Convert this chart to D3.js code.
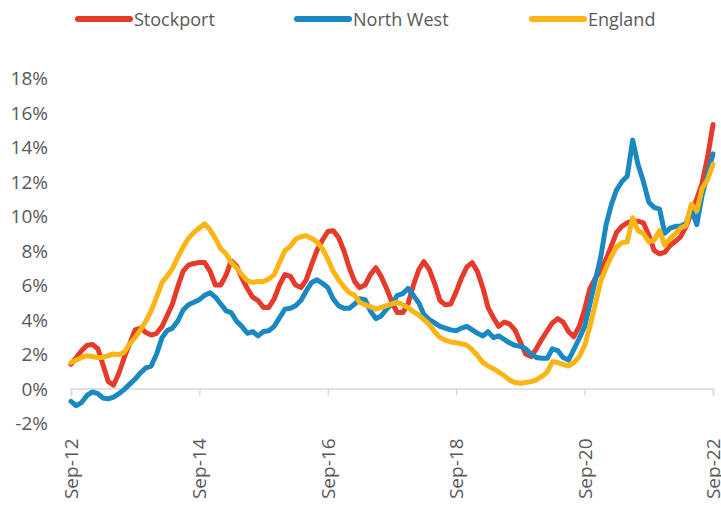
<!DOCTYPE html>
<html>
<head>
<meta charset="utf-8">
<script src="https://cdn.jsdelivr.net/npm/d3@7"></script>
<style>
  body { margin: 0; background: #fff; }
  svg { display: block; font-family: "Open Sans", sans-serif; }
</style>
</head>
<body>
<div id="chart"></div>
<script>
// mesos des de Sep-12 fins a Sep-22
const startMonth = new Date(2012, 8, 1);
const nMonths = 121;

const stockport = [
  1.4, 1.8, 2.2, 2.5, 2.55, 2.3, 1.4, 0.4, 0.2, 0.9, 1.8, 2.6,
  3.4, 3.5, 3.25, 3.1, 3.2, 3.6, 4.2, 4.9, 5.9, 6.8, 7.15, 7.25,
  7.3, 7.3, 6.8, 6.0, 6.0, 6.6, 7.4, 7.1, 6.4, 5.8, 5.3, 5.1,
  4.7, 4.7, 5.2, 6.0, 6.6, 6.5, 6.0, 5.85, 6.3, 7.2, 8.0, 8.6,
  9.1, 9.15, 8.75, 8.0, 7.0, 6.2, 5.85, 6.0, 6.6, 7.0, 6.5, 5.8,
  5.0, 4.4, 4.4, 4.9, 6.0, 6.9, 7.35, 6.9, 6.1, 5.1, 4.85, 4.9,
  5.6, 6.4, 7.05, 7.3, 6.75, 5.8, 4.7, 4.1, 3.6, 3.85, 3.75, 3.4,
  2.7, 2.0, 1.85, 2.3, 2.85, 3.35, 3.8, 4.05, 3.85, 3.3, 3.0, 3.6,
  4.6, 5.8, 6.4, 6.8, 7.5, 8.3, 9.05, 9.4, 9.6, 9.7, 9.7, 9.6,
  8.9, 8.0, 7.8, 7.9, 8.3, 8.55, 8.8, 9.4, 10.2, 11.0, 11.9, 13.4,
  15.3
];

const northWest = [
  -0.75, -1.0, -0.8, -0.4, -0.2, -0.3, -0.55, -0.6, -0.5, -0.3, -0.05, 0.25,
  0.55, 0.9, 1.2, 1.3, 2.0, 2.95, 3.35, 3.5, 3.9, 4.55, 4.85, 5.0,
  5.15, 5.4, 5.55, 5.3, 4.9, 4.5, 4.4, 3.9, 3.6, 3.2, 3.3, 3.05,
  3.3, 3.35, 3.6, 4.1, 4.6, 4.65, 4.8, 5.1, 5.65, 6.15, 6.3, 6.1,
  5.85, 5.2, 4.8, 4.65, 4.65, 4.9, 5.2, 5.15, 4.5, 4.05, 4.2, 4.6,
  4.9, 5.4, 5.5, 5.8, 5.4, 4.95, 4.3, 4.0, 3.8, 3.6, 3.5, 3.4,
  3.35, 3.5, 3.6, 3.4, 3.2, 3.05, 3.3, 2.95, 3.05, 2.85, 2.65, 2.5,
  2.45, 2.3, 2.0, 1.8, 1.75, 1.75, 2.3, 2.2, 1.8, 1.65, 2.25, 2.9,
  3.6, 4.9, 6.3, 7.6, 9.5, 10.7, 11.5, 12.0, 12.3, 14.4, 13.0, 12.0,
  10.8, 10.5, 10.4, 9.0, 9.3, 9.4, 9.4, 9.6, 10.4, 9.5, 11.2, 12.4,
  13.6
];

const england = [
  1.5, 1.65, 1.8, 1.9, 1.85, 1.8, 1.8, 1.9, 2.0, 1.95, 2.1, 2.6,
  2.95, 3.4, 3.9, 4.5, 5.3, 6.15, 6.5, 6.95, 7.6, 8.2, 8.7, 9.05,
  9.3, 9.55, 9.2, 8.7, 8.1, 7.8, 7.3, 7.0, 6.6, 6.25, 6.15, 6.2,
  6.2, 6.35, 6.6, 7.3, 8.0, 8.25, 8.65, 8.8, 8.85, 8.7, 8.5, 8.1,
  7.5, 6.8, 6.3, 5.9, 5.55, 5.4, 5.0, 4.85, 4.75, 4.6, 4.7, 4.8,
  4.9, 5.0, 4.85, 4.7, 4.45, 4.25, 4.0, 3.7, 3.3, 2.95, 2.8, 2.7,
  2.65, 2.6, 2.5, 2.25, 1.9, 1.5, 1.3, 1.15, 0.95, 0.75, 0.5, 0.35,
  0.3, 0.35, 0.4, 0.5, 0.7, 0.95, 1.55, 1.5, 1.4, 1.3, 1.5, 1.85,
  2.5, 3.6, 4.9, 6.2, 7.0, 7.7, 8.2, 8.45, 8.5, 9.9, 9.15, 9.0,
  8.5, 8.6, 9.15, 8.3, 8.7, 9.0, 9.3, 9.45, 10.7, 10.3, 11.6, 12.1,
  13.0
];

const seriesNames = ["Stockport", "North West", "England"];
const seriesColors = ["#E63A2B", "#1A89C3", "#FDB515"];
const yTicks = [-2, 0, 2, 4, 6, 8, 10, 12, 14, 16, 18];
const xTickMonths = [0, 24, 48, 72, 96, 120];
const xTickLabels = ["Sep-12", "Sep-14", "Sep-16", "Sep-18", "Sep-20", "Sep-22"];

const width = 721, height = 506;

const dates = d3.range(nMonths).map(i => d3.timeMonth.offset(startMonth, i));
const series = [stockport, northWest, england].map((vals, k) => ({
  name: seriesNames[k],
  color: seriesColors[k],
  values: vals.map((v, i) => ({ date: dates[i], v }))
}));

const svg = d3.select("#chart")
  .append("svg")
    .attr("width", width)
    .attr("height", height);

// escales
const x = d3.scaleTime()
  .domain([dates[0], dates[nMonths - 1]])
  .range([71, 713]);

const y = d3.scaleLinear()
  .domain([-2, 18])
  .range([423, 78]);

// eix Y: nomes etiquetes
svg.append("g")
  .selectAll("text")
  .data(yTicks)
  .enter()
  .append("text")
    .attr("x", 48)
    .attr("y", d => y(d))
    .attr("text-anchor", "end")
    .attr("dominant-baseline", "central")
    .style("font-size", "19px")
    .style("fill", "#595959")
    .text(d => d + "%");

// eix X a 0%
const xAxis = svg.append("g")
  .attr("transform", `translate(0, ${y(0)})`)
  .call(d3.axisBottom(x)
    .tickValues(xTickMonths.map(i => dates[i]))
    .tickSize(7)
    .tickFormat((d, i) => xTickLabels[i]));

xAxis.select(".domain")
  .attr("stroke", "#d9d9d9")
  .attr("stroke-width", 1.5);
xAxis.selectAll(".tick line")
  .attr("stroke", "#d9d9d9")
  .attr("stroke-width", 1.5);
xAxis.selectAll(".tick text")
  .attr("transform", "rotate(-90)")
  .attr("text-anchor", "end")
  .attr("x", -50)
  .attr("y", 0)
  .attr("dy", "0.35em")
  .style("font-family", "'Open Sans', sans-serif")
  .style("font-size", "19px")
  .style("fill", "#595959");

// linies
const line = d3.line()
  .x(d => x(d.date))
  .y(d => y(d.v));

svg.selectAll(".serie")
  .data(series)
  .enter()
  .append("path")
    .attr("class", "serie")
    .attr("d", d => line(d.values))
    .attr("fill", "none")
    .attr("stroke", d => d.color)
    .attr("stroke-width", 5)
    .attr("stroke-linejoin", "round")
    .attr("stroke-linecap", "round");

// llegenda
const legendX = [76, 295, 530];
const legend = svg.selectAll(".legend")
  .data(series)
  .enter()
  .append("g")
    .attr("class", "legend")
    .attr("transform", (d, i) => `translate(${legendX[i]}, 19)`);

legend.append("line")
  .attr("x1", 2).attr("x2", 54)
  .attr("stroke", d => d.color)
  .attr("stroke-width", 6)
  .attr("stroke-linecap", "round");

legend.append("text")
  .attr("x", 58)
  .attr("dominant-baseline", "central")
  .style("font-size", "18px")
  .style("fill", "#595959")
  .text(d => d.name);
</script>
</body>
</html>
